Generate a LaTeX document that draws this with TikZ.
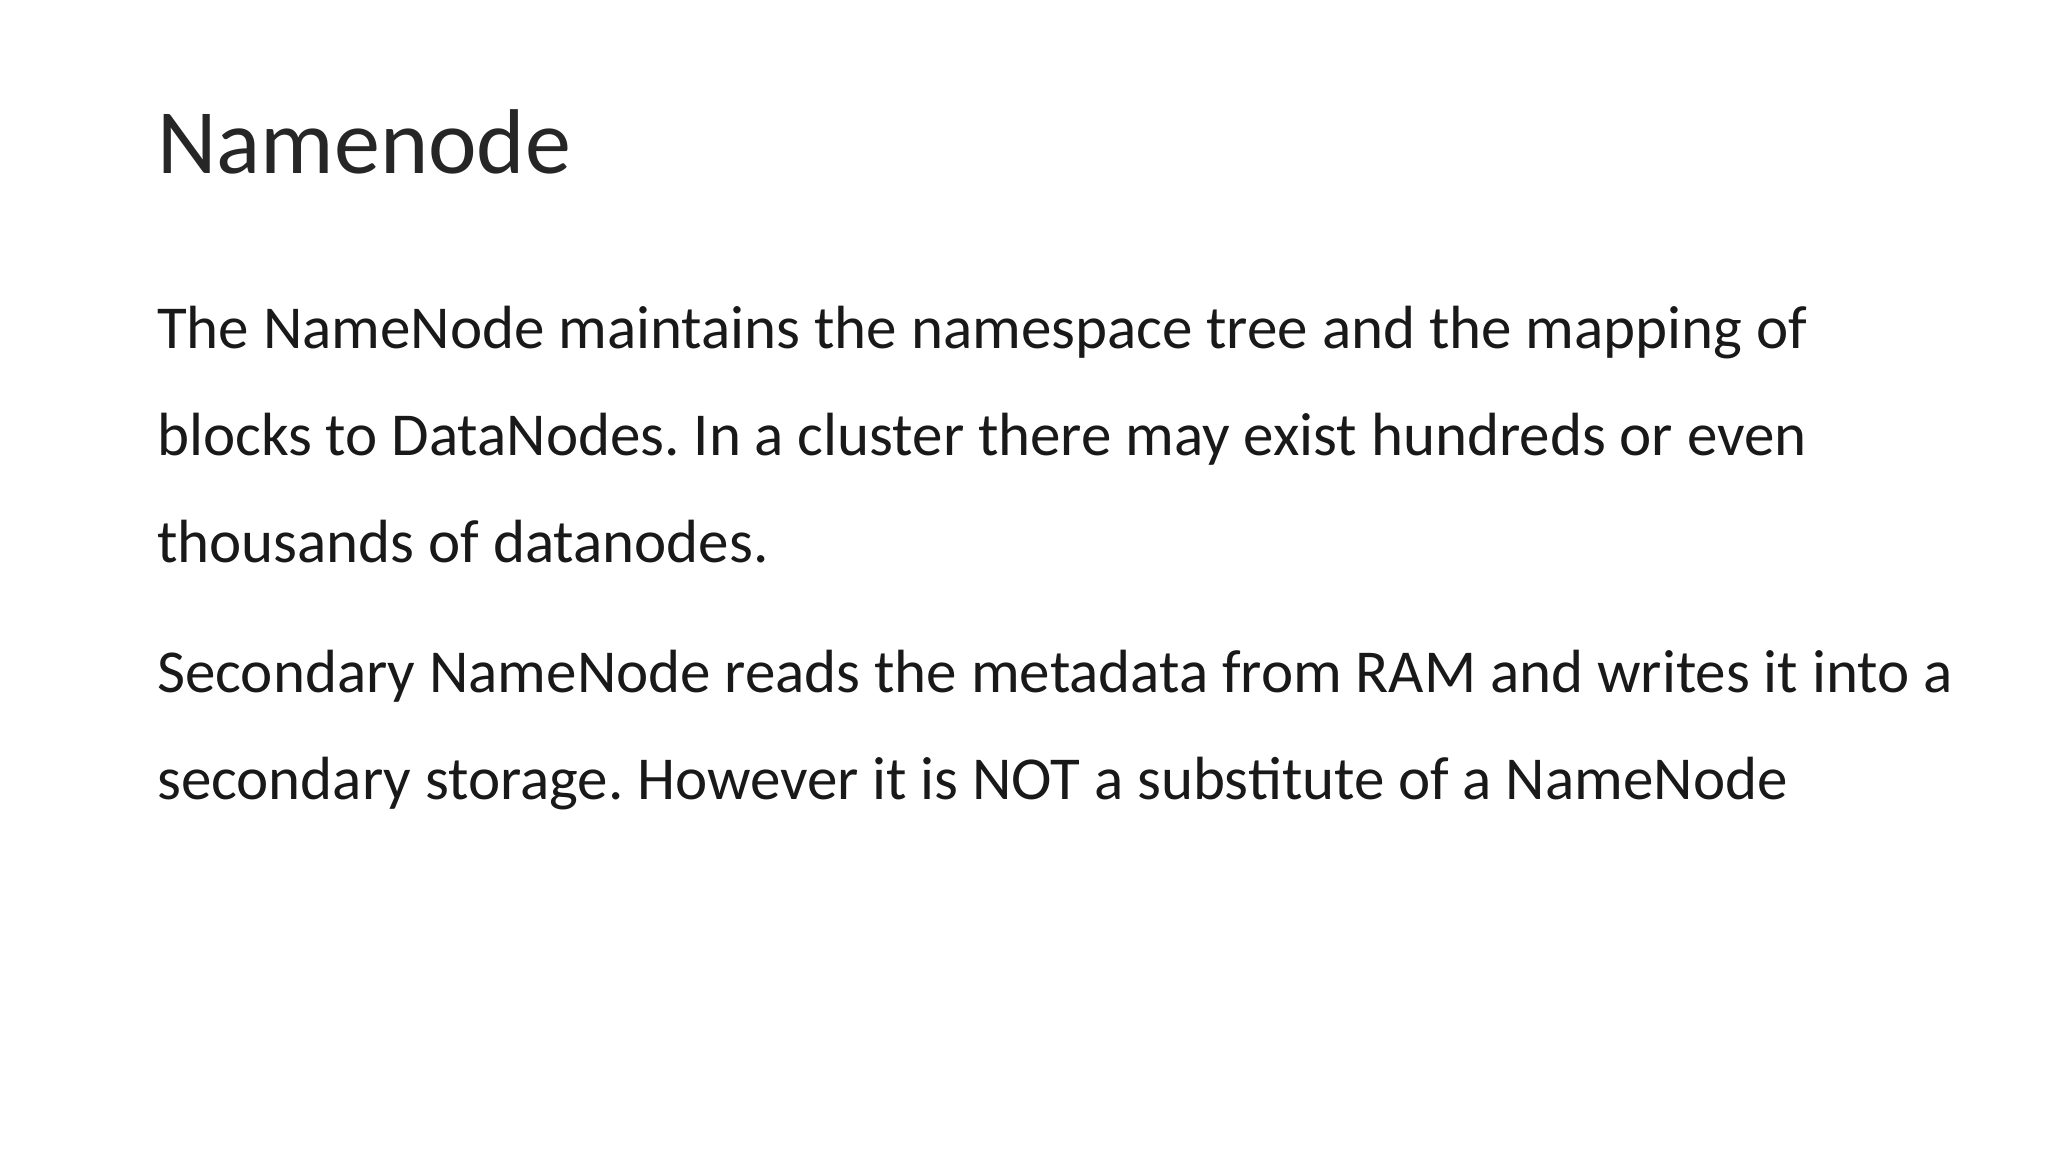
\documentclass[tikz,border=0pt]{standalone}
\usepackage{fontspec}
\setmainfont{Carlito}
\frenchspacing
\begin{document}
\begin{tikzpicture}[x=1pt,y=1pt,
  body/.style={anchor=base west,inner sep=0pt,font=\fontsize{30.5}{36}\selectfont,text=black!90},
  ttl/.style={anchor=base west,inner sep=0pt,font=\fontsize{46}{52}\selectfont,text=black!85}]
\useasboundingbox[fill=white] (0,0) rectangle (1024,-576);
\node[ttl] (t) at (78.4,-86.8) {Namenode};
\node[body] (l1) at (78.4,-174.4) {The NameNode maintains the namespace tree and the mapping of};
\node[body] (l2) at (78.4,-227.9) {blocks to DataNodes. In a cluster there may exist hundreds or even};
\node[body] (l3) at (78.4,-281.4) {thousands of datanodes.};
\node[body] (l4) at (78.4,-346.1) {Secondary NameNode reads the metadata from RAM and writes it into a};
\node[body] (l5) at (78.4,-399.6) {secondary storage. However it is NOT a substitute of a NameNode};
\end{tikzpicture}
\end{document}
